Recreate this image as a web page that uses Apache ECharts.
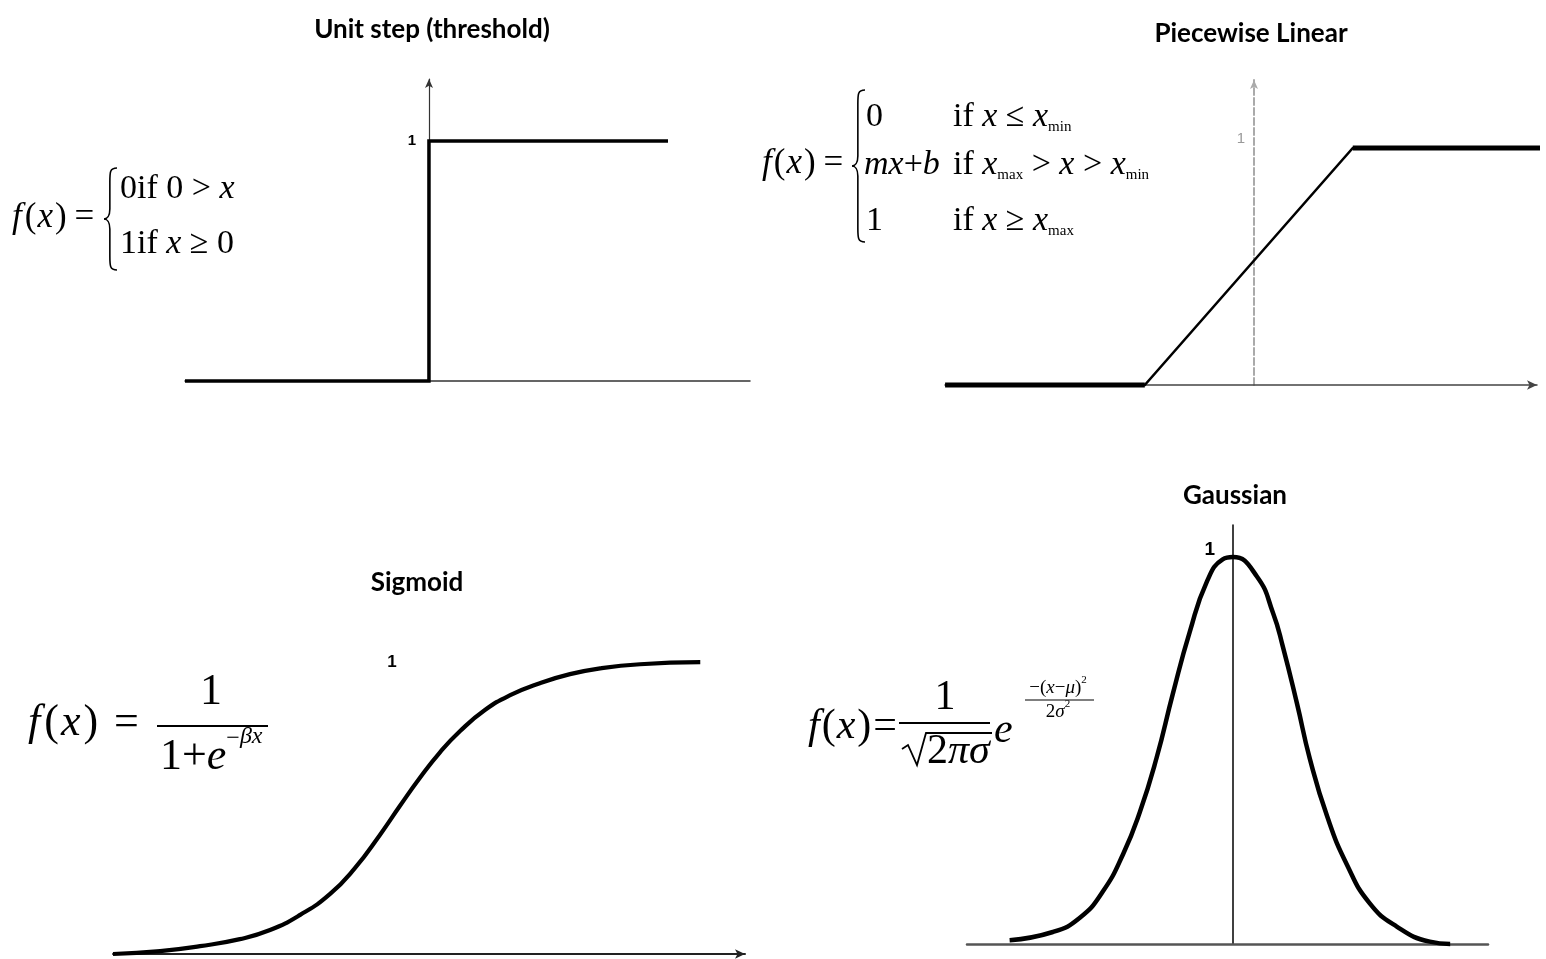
<!DOCTYPE html>
<html>
<head>
<meta charset="utf-8">
<title>Activation functions</title>
<script src="https://cdn.jsdelivr.net/npm/echarts@6/dist/echarts.min.js"></script>
<style>
  html, body { margin: 0; padding: 0; background: #ffffff; }
  #chart { width: 1546px; height: 959px; }
</style>
</head>
<body>
<div id="chart"></div>
<script>
// ---- Panel titles ----
const titles = ['Unit step (threshold)', 'Piecewise Linear', 'Sigmoid', 'Gaussian'];
const unitLabel = '1';

// ---- Unit step ----
const stepX = [-1, 0, 0, 0.98];
const stepY = [0, 0, 1, 1];

// ---- Piecewise linear (flat, ramp, flat) ----
const linX = [-2.97, -1.05, 0.95, 2.81];
const linY = [0, 0, 1, 1];

// ---- Sigmoid ----
const sigX = [-6.0, -5.03, -4.21, -3.39, -2.77, -2.15, -1.54, -1.02, -0.51, -0.1, 0.31, 0.73, 1.14, 1.65, 2.17, 2.78, 3.4, 4.02, 4.84, 6.08];
const sigY = [0, 0.01, 0.027, 0.051, 0.082, 0.134, 0.205, 0.295, 0.408, 0.507, 0.603, 0.692, 0.764, 0.836, 0.887, 0.928, 0.959, 0.979, 0.993, 1.0];

// ---- Gaussian ----
const gaussX = [-3.72, -3.0, -2.55, -2.17, -1.83, -1.55, -1.27, -1.0, -0.72, -0.43, -0.17, 0, 0.4, 0.67, 0.83, 1.07, 1.28, 1.57, 1.9, 2.28, 2.73, 3.28, 3.62];
const gaussY = [0.01, 0.031, 0.068, 0.135, 0.232, 0.341, 0.482, 0.647, 0.806, 0.938, 0.994, 1.0, 0.95, 0.855, 0.77, 0.62, 0.48, 0.33, 0.205, 0.105, 0.045, 0.006, 0];

const pairs = (xs, ys) => xs.map((x, i) => [x, ys[i]]);

// ---- Formula typesetting helpers ----
const SERIF = '"Liberation Serif", "Times New Roman", serif';
const measureCtx = document.createElement('canvas').getContext('2d');
function fontOf(p, size) {
  return (p.it ? 'italic ' : '') + (p.size || size) + 'px ' + SERIF;
}
function runWidth(parts, size) {
  let w = 0;
  parts.forEach(p => { measureCtx.font = fontOf(p, size); w += measureCtx.measureText(p.t).width + (p.gap || 0); });
  return w;
}
function run(x, y, size, parts) {
  const els = [];
  let cx = x;
  parts.forEach(p => {
    const f = fontOf(p, size);
    els.push({
      type: 'text', x: cx, y: y + (p.dy || 0), silent: true,
      style: { text: p.t, font: f, fill: '#000', textAlign: 'left', textVerticalAlign: 'middle', align: 'left', verticalAlign: 'middle' }
    });
    measureCtx.font = f;
    cx += measureCtx.measureText(p.t).width + (p.gap || 0);
  });
  return els;
}
function runCentered(cx, y, size, parts) {
  return run(cx - runWidth(parts, size) / 2, y, size, parts);
}
const ink = { stroke: '#000', lineWidth: 1.6, fill: 'none' };
function curve(x1, y1, cpx1, cpy1, cpx2, cpy2, x2, y2) {
  return { type: 'bezierCurve', silent: true, shape: { x1, y1, cpx1, cpy1, cpx2, cpy2, x2, y2 }, style: ink };
}
function seg(x1, y1, x2, y2, lw) {
  return { type: 'line', silent: true, shape: { x1, y1, x2, y2 }, style: { stroke: '#000', lineWidth: lw || 1.6 } };
}
// Curly brace opening to the right; x is the tip on the left
function brace(x, top, bottom, w) {
  const mid = (top + bottom) / 2;
  const s = x + w * 0.45;
  const e = x + w;
  return [
    curve(e, top, s, top, s, top + 4, s, top + 14),
    seg(s, top + 14, s, mid - 10),
    curve(s, mid - 10, s, mid - 3, x + 3, mid, x, mid),
    curve(x, mid, x + 3, mid, s, mid + 3, s, mid + 10),
    seg(s, mid + 10, s, bottom - 14),
    curve(s, bottom - 14, s, bottom - 4, s, bottom, e, bottom)
  ];
}
// f(x) with loose spacing; g = extra gaps after f, (, x, ) respectively
function fxParts(g, eq) {
  return [{ t: 'f', it: true, gap: g[0] }, { t: '(', gap: g[1] }, { t: 'x', it: true, gap: g[2] }, { t: ')', gap: g[3] }, { t: eq }];
}

const formulas = [].concat(
  // unit step
  run(12, 218, 35, fxParts([3, 1, 2, 8], '=')),
  brace(104, 168, 270, 13),
  run(120, 189, 34, [{ t: '0if 0 > ' }, { t: 'x', it: true }]),
  run(120, 244, 34, [{ t: '1if ' }, { t: 'x', it: true }, { t: ' ≥ 0' }]),

  // piecewise linear
  run(762, 164, 35, fxParts([2, 1, 2, 8], '=')),
  brace(852, 90, 242, 13),
  run(866, 117, 34, [{ t: '0' }]),
  run(953, 117, 34, [{ t: 'if ' }, { t: 'x', it: true }, { t: ' ≤ ' }, { t: 'x', it: true }, { t: 'min', size: 15, dy: 10 }]),
  run(864, 165, 34, [{ t: 'mx', it: true }, { t: '+' }, { t: 'b', it: true }]),
  run(953, 165, 34, [{ t: 'if ' }, { t: 'x', it: true }, { t: 'max', size: 15, dy: 10 }, { t: ' > ' }, { t: 'x', it: true },
                     { t: ' > ' }, { t: 'x', it: true }, { t: 'min', size: 15, dy: 10 }]),
  run(866, 221, 34, [{ t: '1' }]),
  run(953, 221, 34, [{ t: 'if ' }, { t: 'x', it: true }, { t: ' ≥ ' }, { t: 'x', it: true }, { t: 'max', size: 15, dy: 10 }]),

  // sigmoid
  run(28, 723, 44, fxParts([4, 2, 3, 16], '=')),
  runCentered(211, 692, 44, [{ t: '1' }]),
  [seg(157, 726, 268, 726, 2)],
  run(160, 757, 44, [{ t: '1+' }, { t: 'e', it: true }, { t: '−', size: 24, dy: -18 }, { t: 'βx', it: true, size: 24, dy: -20 }]),

  // gaussian
  run(808, 727, 42, fxParts([2, 1, 2, 2], '=')),
  runCentered(945, 698, 42, [{ t: '1' }]),
  [seg(899, 723, 990, 723, 2)],
  [{ type: 'polyline', silent: true, shape: { points: [[902, 749], [908, 745], [917, 765], [926, 733], [992, 733]] },
     style: { stroke: '#000', lineWidth: 1.8, fill: 'none' } }],
  run(927, 752, 42, [{ t: '2' }, { t: 'πσ', it: true }]),
  run(994, 731, 42, [{ t: 'e', it: true }]),
  runCentered(1058, 688, 19, [{ t: '−(' }, { t: 'x', it: true }, { t: '−' }, { t: 'μ', it: true }, { t: ')' }, { t: '2', size: 11, dy: -8 }]),
  [seg(1025, 700, 1094, 700, 1.2)],
  runCentered(1058, 712, 19, [{ t: '2' }, { t: 'σ', it: true }, { t: '2', size: 11, dy: -8 }])
);

// ---- Axes ----
const hidden = { axisTick: { show: false }, splitLine: { show: false } };
function xAxis(gridIndex, min, max, line) {
  return Object.assign({ type: 'value', gridIndex, min, max, axisLabel: { show: false }, axisLine: line }, hidden);
}
// y axis sits inside its grid, shifted right from the grid's left edge by `shift` px (the x = 0 position)
function yAxis(gridIndex, max, shift, line, label) {
  return Object.assign({
    type: 'value', gridIndex, min: 0, max, interval: 1, position: 'left', offset: -shift,
    axisLine: Object.assign({ onZero: false }, line),
    axisLabel: Object.assign({ formatter: v => (v === 1 ? unitLabel : '') }, label)
  }, hidden);
}

const grids = [
  { left: 185, top: 79, width: 565, height: 302 },   // unit step
  { left: 945, top: 80, width: 592, height: 305 },   // piecewise linear
  { left: 113, top: 633, width: 632, height: 321 },  // sigmoid
  { left: 967, top: 525, width: 521, height: 419 }   // gaussian
];

const xAxes = [
  xAxis(0, -1, 1.316, { onZero: false, lineStyle: { color: '#333', width: 1.5 } }),
  xAxis(1, -2.971, 2.721, { onZero: false, symbol: ['none', 'arrow'], symbolSize: [7, 10], lineStyle: { color: '#444', width: 1.5 } }),
  xAxis(2, -6, 7, { onZero: false, symbol: ['none', 'arrow'], symbolSize: [7, 10], lineStyle: { color: '#222', width: 2 } }),
  xAxis(3, -4.43, 4.25, { onZero: false, lineStyle: { color: '#555', width: 2.5 } })
];

const yAxes = [
  yAxis(0, 1.258, 244, { symbol: ['none', 'arrow'], symbolSize: [6, 9], lineStyle: { color: '#333', width: 1.2 } },
        { margin: 13, color: '#000', fontWeight: 'bold', fontSize: 15, fontFamily: 'Liberation Sans' }),
  yAxis(1, 1.287, 309, { symbol: ['none', 'arrow'], symbolSize: [6, 9], lineStyle: { color: '#aaa', width: 2, type: [7, 3] } },
        { margin: 9, color: '#999', fontSize: 15, fontFamily: 'Liberation Sans', verticalAlign: 'bottom', padding: [0, 0, 2, 0] }),
  yAxis(2, 1.1, 291.7, { show: false },
        { margin: 8, color: '#000', fontWeight: 'bold', fontSize: 17, fontFamily: 'Liberation Sans' }),
  yAxis(3, 1.083, 266, { lineStyle: { color: '#000', width: 1.5 } },
        { margin: 18, color: '#000', fontWeight: 'bold', fontSize: 19, fontFamily: 'Liberation Sans', verticalAlign: 'bottom', padding: [0, 0, -2, 0] })
];

function lineSeries(idx, data, width, smooth) {
  return {
    type: 'line', xAxisIndex: idx, yAxisIndex: idx, data, showSymbol: false, smooth: smooth || false,
    animation: false, silent: true, clip: false,
    lineStyle: { color: '#000', width, cap: 'butt', join: 'miter' }
  };
}

const linPts = pairs(linX, linY);
const series = [
  lineSeries(0, pairs(stepX, stepY), 3.5),
  lineSeries(1, linPts, 2.5),
  lineSeries(1, linPts.slice(0, 2), 5),
  lineSeries(1, linPts.slice(2, 4), 5),
  lineSeries(2, pairs(sigX, sigY), 4.2, 0.5),
  lineSeries(3, pairs(gaussX, gaussY), 4.5, 0.5)
];

const titleCenters = [[427, 12], [1246, 16], [412, 565], [1230, 478]];
const titleOpts = titles.map((t, i) => ({
  text: t, left: titleCenters[i][0], top: titleCenters[i][1], textAlign: 'center',
  textStyle: { fontFamily: 'Lato', fontWeight: 'bold', fontSize: 26, color: '#000' }
}));

const chart = echarts.init(document.getElementById('chart'), null, { renderer: 'canvas' });
chart.setOption({
  backgroundColor: '#ffffff',
  animation: false,
  title: titleOpts,
  grid: grids,
  xAxis: xAxes,
  yAxis: yAxes,
  series,
  graphic: formulas
});
</script>
</body>
</html>
